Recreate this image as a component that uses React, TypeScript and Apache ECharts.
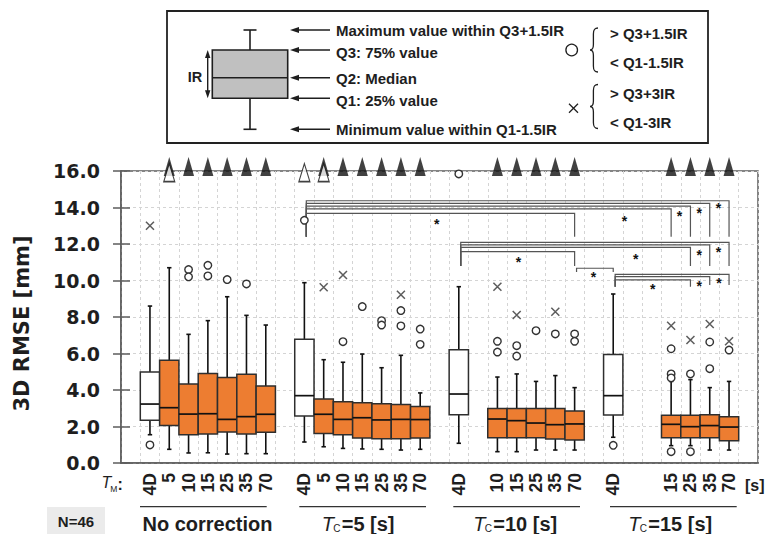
import React, { useEffect, useRef } from 'react';
import * as echarts from 'echarts';

// ---- data ----------------------------------------------------------------
const tmLabels = ['4D', '5', '10', '15', '25', '35', '70'];
const groupTitles = ['No correction', '=5 [s]', '=10 [s]', '=15 [s]'];

type Stat = [number, number, number, number, number] | null; // [min, Q1, median, Q3, max]

const noCorrectionStats: Stat[] = [
  [1.55, 2.34, 3.23, 4.99, 8.6],
  [0.75, 2.05, 3.03, 5.63, 10.7],
  [0.55, 1.55, 2.68, 4.33, 7.05],
  [0.56, 1.59, 2.7, 4.91, 7.8],
  [0.49, 1.7, 2.39, 4.68, 9.11],
  [0.51, 1.59, 2.54, 4.86, 8.09],
  [0.51, 1.68, 2.67, 4.22, 7.56],
];
const tc5Stats: Stat[] = [
  [1.15, 2.58, 3.69, 6.78, 9.88],
  [0.89, 1.62, 2.67, 3.51, 5.66],
  [0.8, 1.55, 2.39, 3.36, 5.52],
  [0.77, 1.37, 2.48, 3.3, 5.97],
  [0.75, 1.33, 2.36, 3.25, 5.22],
  [0.71, 1.33, 2.39, 3.21, 5.9],
  [0.75, 1.37, 2.38, 3.09, 3.84],
];
const tc10Stats: Stat[] = [
  [1.08, 2.65, 3.78, 6.21, 9.66],
  null,
  [0.62, 1.39, 2.41, 2.98, 4.71],
  [0.62, 1.39, 2.32, 2.98, 4.88],
  [0.71, 1.39, 2.19, 2.98, 4.47],
  [0.71, 1.32, 2.1, 2.98, 4.79],
  [0.71, 1.26, 2.14, 2.85, 4.13],
];
const tc15Stats: Stat[] = [
  [1.41, 2.63, 3.69, 5.95, 9.26],
  null,
  null,
  [0.95, 1.39, 2.12, 2.61, 4.47],
  [0.95, 1.39, 1.99, 2.61, 4.57],
  [0.71, 1.39, 2.05, 2.65, 4.13],
  [0.71, 1.22, 1.97, 2.54, 4.47],
];
const groupStats = [noCorrectionStats, tc5Stats, tc10Stats, tc15Stats];

// outliers as [group, T_M index, value]
const circleOutliers: [number, number, number][] = [
  [0, 0, 0.99], [0, 2, 10.6], [0, 2, 10.2], [0, 3, 10.83], [0, 3, 10.25], [0, 4, 10.05], [0, 5, 9.81],
  [1, 0, 13.3], [1, 2, 6.65], [1, 3, 8.57], [1, 4, 7.8], [1, 4, 7.56], [1, 5, 8.35], [1, 5, 7.51],
  [1, 6, 7.34], [1, 6, 6.5],
  [2, 0, 15.84], [2, 2, 6.67], [2, 2, 6.08], [2, 3, 6.43], [2, 3, 5.86], [2, 4, 7.25], [2, 5, 7.07],
  [2, 6, 7.07], [2, 6, 6.67],
  [3, 0, 0.97], [3, 3, 6.26], [3, 3, 4.88], [3, 3, 4.66], [3, 3, 0.62], [3, 4, 4.88], [3, 4, 0.62],
  [3, 5, 6.63], [3, 5, 5.17], [3, 6, 6.19],
];
const crossOutliers: [number, number, number][] = [
  [0, 0, 13.0],
  [1, 1, 9.63], [1, 2, 10.3], [1, 5, 9.22],
  [2, 2, 9.66], [2, 3, 8.11], [2, 5, 8.29],
  [3, 3, 7.52], [3, 4, 6.74], [3, 5, 7.62], [3, 6, 6.67],
];

// markers above the frame: [group, T_M index]
const filledMarks: [number, number][] = [
  [0, 1], [0, 2], [0, 3], [0, 4], [0, 5], [0, 6],
  [1, 1], [1, 2], [1, 3], [1, 4], [1, 5], [1, 6],
  [2, 2], [2, 3], [2, 4], [2, 5], [2, 6],
  [3, 3], [3, 4], [3, 5], [3, 6],
];
const hollowMarks: [number, number][] = [[0, 1], [1, 0], [1, 1]];

// significance brackets: [from group, from T_M, to group, to T_M, top, left foot, right foot]
const brackets: [number, number, number, number, number, number, number][] = [
  [1, 0, 3, 6, 14.37, 12.4, 12.4],
  [1, 0, 3, 5, 14.23, 12.4, 12.4],
  [1, 0, 3, 4, 14.08, 12.4, 12.4],
  [1, 0, 3, 3, 13.93, 12.4, 12.4],
  [1, 0, 2, 6, 13.68, 12.4, 12.4],
  [2, 0, 3, 6, 12.09, 10.79, 10.79],
  [2, 0, 3, 5, 11.95, 10.79, 10.79],
  [2, 0, 3, 4, 11.82, 10.79, 10.79],
  [2, 0, 2, 6, 11.58, 10.79, 10.79],
  [2, 6, 3, 0, 10.67, 10.47, 10.47],
  [3, 0, 3, 6, 10.34, 9.66, 9.75],
  [3, 0, 3, 5, 10.21, 9.66, 9.75],
  [3, 0, 3, 4, 10.03, 9.66, 9.66],
];
// asterisks: [position along the slot axis, value]
const stars: [number, number][] = [
  [30.95, 14.14], [29.96, 13.86], [28.93, 13.68], [26.08, 13.41], [16.36, 13.26],
  [30.95, 11.71], [29.96, 11.55], [26.67, 11.36], [20.59, 11.18],
  [24.47, 10.34],
  [30.98, 10.03], [29.96, 9.85], [27.55, 9.72],
];

const yTicks = [0, 2, 4, 6, 8, 10, 12, 14, 16];

// ---- layout helpers --------------------------------------------------------
const SLOT_COUNT = 33;
const slotOf = (g: number, t: number) => 1 + g * 8 + t;

const slotLabels: string[] = Array(SLOT_COUNT).fill('');
groupStats.forEach((stats, g) =>
  stats.forEach((s, t) => {
    if (s) slotLabels[slotOf(g, t)] = tmLabels[t];
  })
);

const boxData: number[][] = [];
groupStats.forEach((stats, g) =>
  stats.forEach((s, t) => {
    if (s) boxData.push([slotOf(g, t), ...s, t === 0 ? 0 : 1]);
  })
);

const ARIAL = '"Liberation Sans", Arial, Helvetica, sans-serif';
const DEJAVU = '"DejaVu Sans", Verdana, sans-serif';
const ORANGE = '#ED7D31';
const INK = '#1e1e1e';
const FRAME = '#5c5c5c';

// curly brace used in the outlier key
const BRACE_D =
  'M8,0 C4.5,0 3.4,1.5 3.4,6 L3.4,16.5 C3.4,20 2.4,22 0,22 C2.4,22 3.4,24 3.4,27.5 L3.4,38 C3.4,42.5 4.5,44 8,44';
echarts.graphic.registerShape('brace', echarts.graphic.extendPath(BRACE_D, {}) as any);

function text(str: string, x: number, y: number, o: Record<string, any> = {}) {
  const align = o.align || 'left';
  return {
    type: 'text',
    x,
    y,
    rotation: o.rotation || 0,
    silent: true,
    style: {
      text: str,
      fill: o.fill || INK,
      fontFamily: o.fontFamily || ARIAL,
      fontWeight: o.fontWeight || 'bold',
      fontStyle: o.fontStyle || 'normal',
      fontSize: o.fontSize || 15,
      align,
      textAlign: align,
      verticalAlign: 'middle',
      textVerticalAlign: 'middle',
    },
  };
}

function legendArrow(y: number) {
  return [
    { type: 'line', silent: true, shape: { x1: 296, y1: y, x2: 330, y2: y }, style: { stroke: INK, lineWidth: 1.4 } },
    { type: 'polygon', silent: true, shape: { points: [[290, y], [299, y - 3], [299, y + 3]] }, style: { fill: INK } },
  ];
}

function buildGraphics() {
  const els: any[] = [];
  // legend frame
  els.push({ type: 'rect', silent: true, shape: { x: 167, y: 11, width: 541, height: 132 }, style: { fill: '#fff', stroke: '#222', lineWidth: 1.8 } });
  // sample box
  els.push({ type: 'line', silent: true, shape: { x1: 250, y1: 30, x2: 250, y2: 50 }, style: { stroke: INK, lineWidth: 1.6 } });
  els.push({ type: 'line', silent: true, shape: { x1: 250, y1: 98.3, x2: 250, y2: 129.3 }, style: { stroke: INK, lineWidth: 1.6 } });
  els.push({ type: 'line', silent: true, shape: { x1: 243.5, y1: 30, x2: 256.5, y2: 30 }, style: { stroke: INK, lineWidth: 1.6 } });
  els.push({ type: 'line', silent: true, shape: { x1: 243.5, y1: 129.3, x2: 256.5, y2: 129.3 }, style: { stroke: INK, lineWidth: 1.6 } });
  els.push({ type: 'rect', silent: true, shape: { x: 212.3, y: 50, width: 75.4, height: 48.3 }, style: { fill: '#c0c0c0', stroke: INK, lineWidth: 1.6 } });
  els.push({ type: 'line', silent: true, shape: { x1: 212.3, y1: 77.7, x2: 287.7, y2: 77.7 }, style: { stroke: INK, lineWidth: 1.6 } });
  // IR double arrow
  els.push({ type: 'line', silent: true, shape: { x1: 207.7, y1: 55, x2: 207.7, y2: 93 }, style: { stroke: INK, lineWidth: 1.4 } });
  els.push({ type: 'polygon', silent: true, shape: { points: [[207.7, 50], [205, 58], [210.4, 58]] }, style: { fill: INK } });
  els.push({ type: 'polygon', silent: true, shape: { points: [[207.7, 98.3], [205, 90.3], [210.4, 90.3]] }, style: { fill: INK } });
  els.push(text('IR', 195, 77, { align: 'center', fontSize: 14.5 }));
  // pointers and captions
  const rows: [number, number, string][] = [
    [30, 30, 'Maximum value within Q3+1.5IR'],
    [50, 52.3, 'Q3: 75% value'],
    [77.7, 78.3, 'Q2: Median'],
    [98.3, 100, 'Q1: 25% value'],
    [129.3, 129.3, 'Minimum value within Q1-1.5IR'],
  ];
  rows.forEach(([ay, ty, s]) => {
    els.push(...legendArrow(ay));
    els.push(text(s, 336, ty));
  });
  // outlier keys
  els.push({ type: 'circle', silent: true, shape: { cx: 571.7, cy: 50, r: 5.8 }, style: { fill: 'none', stroke: INK, lineWidth: 1.3 } });
  els.push({ type: 'line', silent: true, shape: { x1: 569, y1: 103.8, x2: 578, y2: 112.8 }, style: { stroke: INK, lineWidth: 1.3 } });
  els.push({ type: 'line', silent: true, shape: { x1: 578, y1: 103.8, x2: 569, y2: 112.8 }, style: { stroke: INK, lineWidth: 1.3 } });
  els.push({ type: 'brace', silent: true, x: 590, y: 28, style: { fill: 'none', stroke: INK, lineWidth: 1.3 } });
  els.push({ type: 'brace', silent: true, x: 590, y: 84.5, style: { fill: 'none', stroke: INK, lineWidth: 1.3 } });
  els.push(text('> Q3+1.5IR', 610, 33.3));
  els.push(text('< Q1-1.5IR', 610, 62.7));
  els.push(text('> Q3+3IR', 610, 93.3));
  els.push(text('< Q1-3IR', 610, 122.7));

  // y-axis title
  els.push(text('3D RMSE [mm]', 21.5, 323.5, { align: 'center', fontFamily: DEJAVU, fontSize: 21, rotation: Math.PI / 2 }));

  // T_M row caption and unit
  els.push(text('T', 101.5, 482.5, { fontStyle: 'italic', fontWeight: 'normal', fontSize: 16 }));
  els.push(text('M', 110.2, 489, { fontWeight: 'normal', fontSize: 8.5 }));
  els.push(text(':', 117.5, 484, { fontSize: 16 }));
  els.push(text('[s]', 745, 485.5, { fontSize: 16 }));

  // group captions with rules
  const rules: [number, number][] = [[140, 266.7], [299.3, 426], [453.3, 580], [610, 736.7]];
  rules.forEach(([a, b]) =>
    els.push({ type: 'line', silent: true, shape: { x1: a, y1: 506.7, x2: b, y2: 506.7 }, style: { stroke: '#333', lineWidth: 1.3 } })
  );
  els.push(text(groupTitles[0], 207.5, 524, { align: 'center', fontSize: 20 }));
  const tcStarts = [321.7, 473.3, 628.3];
  tcStarts.forEach((x0, i) => {
    els.push(text('T', x0, 524, { fontStyle: 'italic', fontWeight: 'normal', fontSize: 20 }));
    els.push(text('C', x0 + 11.5, 528.5, { fontWeight: 'normal', fontSize: 10 }));
    els.push(text(groupTitles[i + 1], x0 + 20, 524, { fontSize: 20 }));
  });

  // sample size tag
  els.push({ type: 'rect', silent: true, shape: { x: 47, y: 507, width: 58, height: 27 }, style: { fill: '#ebebeb' } });
  els.push(text('N=46', 76, 521, { align: 'center', fontSize: 15 }));
  return els;
}

function renderBox(params: any, api: any) {
  const slot = api.value(0);
  const mn = api.value(1);
  const q1 = api.value(2);
  const md = api.value(3);
  const q3 = api.value(4);
  const mx = api.value(5);
  const filled = api.value(6) === 1;
  const w = api.size([1, 0])[0];
  const pMin = api.coord([slot, mn]);
  const pQ1 = api.coord([slot, q1]);
  const pMd = api.coord([slot, md]);
  const pQ3 = api.coord([slot, q3]);
  const pMax = api.coord([slot, mx]);
  const x = pMd[0];
  const half = w / 2;
  const wStyle = { stroke: '#111', lineWidth: 1.6 };
  const cap = 2.2;
  return {
    type: 'group',
    children: [
      { type: 'line', shape: { x1: x, y1: pMax[1], x2: x, y2: pQ3[1] }, style: wStyle },
      { type: 'line', shape: { x1: x, y1: pQ1[1], x2: x, y2: pMin[1] }, style: wStyle },
      { type: 'line', shape: { x1: x - cap, y1: pMax[1], x2: x + cap, y2: pMax[1] }, style: wStyle },
      { type: 'line', shape: { x1: x - cap, y1: pMin[1], x2: x + cap, y2: pMin[1] }, style: wStyle },
      {
        type: 'rect',
        shape: { x: x - half, y: pQ3[1], width: w, height: pQ1[1] - pQ3[1] },
        style: { fill: filled ? ORANGE : '#ffffff', stroke: '#2e2e2e', lineWidth: 1.5 },
      },
      { type: 'line', shape: { x1: x - half, y1: pMd[1], x2: x + half, y2: pMd[1] }, style: { stroke: '#111', lineWidth: 1.7 } },
    ],
  };
}

function renderBracket(params: any, api: any) {
  const x1 = api.value(0);
  const x2 = api.value(1);
  const top = api.value(2);
  const lf = api.value(3);
  const rf = api.value(4);
  const a = api.coord([x1, lf]);
  const b = api.coord([x1, top]);
  const c = api.coord([x2, top]);
  const d = api.coord([x2, rf]);
  return {
    type: 'polyline',
    shape: { points: [a, b, c, d] },
    style: { fill: 'none', stroke: '#555', lineWidth: 1.2 },
  };
}

function renderStar(params: any, api: any) {
  const p = api.coord([api.value(0), api.value(1)]);
  return {
    type: 'text',
    x: p[0],
    y: p[1] + 3,
    style: {
      text: '*',
      fill: '#111',
      fontFamily: ARIAL,
      fontWeight: 'bold',
      fontSize: 14,
      align: 'center',
      textAlign: 'center',
      verticalAlign: 'middle',
      textVerticalAlign: 'middle',
    },
  };
}

export default function App() {
  const ref = useRef<HTMLDivElement>(null);

  useEffect(() => {
    document.body.style.margin = '0';
    if (!ref.current) return;
    const chart = echarts.init(ref.current, null, { renderer: 'svg' });

    const bracketData = brackets.map(([fg, ft, tg, tt, top, lf, rf]) => [
      slotOf(fg, ft) + 0.6,
      slotOf(tg, tt) + 0.5,
      top,
      lf,
      rf,
    ]);

    const option: any = {
      animation: false,
      backgroundColor: '#ffffff',
      grid: {
        left: 121,
        right: 11,
        top: 171,
        bottom: 71,
        show: true,
        borderColor: FRAME,
        borderWidth: 1.5,
        backgroundColor: 'transparent',
      },
      xAxis: [
        {
          type: 'category',
          data: slotLabels,
          boundaryGap: true,
          axisLine: { show: true, lineStyle: { color: FRAME, width: 1.5 } },
          axisTick: { show: false },
          splitLine: { show: true, interval: 0, lineStyle: { color: '#d4d4d4', type: [3, 3], width: 1 } },
          axisLabel: {
            interval: 0,
            rotate: 90,
            margin: 10,
            color: INK,
            fontFamily: ARIAL,
            fontWeight: 'bold',
            fontSize: 17.5,
          },
        },
        { type: 'value', min: 0, max: SLOT_COUNT, show: false, gridIndex: 0 },
      ],
      yAxis: [
        {
          type: 'value',
          min: yTicks[0],
          max: yTicks[yTicks.length - 1],
          interval: 2,
          position: 'left',
          axisLine: { show: true, lineStyle: { color: FRAME, width: 1.5 } },
          axisTick: { show: true, length: 8, lineStyle: { color: FRAME, width: 1.5 } },
          splitLine: { show: true, lineStyle: { color: '#d4d4d4', type: [3, 3], width: 1 } },
          axisLabel: {
            margin: 21,
            color: INK,
            fontFamily: DEJAVU,
            fontWeight: 'bold',
            fontSize: 19,
            formatter: (v: number) => v.toFixed(1),
          },
        },
        {
          type: 'value',
          min: yTicks[0],
          max: yTicks[yTicks.length - 1],
          interval: 2,
          position: 'left',
          offset: 0,
          axisLine: { show: false },
          axisTick: { show: true, inside: true, length: 9, lineStyle: { color: FRAME, width: 1.5 } },
          splitLine: { show: false },
          axisLabel: { show: false },
        },
      ],
      series: [
        {
          type: 'custom',
          name: 'boxes',
          xAxisIndex: 0,
          yAxisIndex: 0,
          renderItem: renderBox,
          encode: { x: 0, y: [1, 2, 3, 4, 5] },
          data: boxData,
          z: 3,
        },
        {
          type: 'scatter',
          name: 'circles',
          xAxisIndex: 0,
          yAxisIndex: 0,
          symbol: 'circle',
          symbolSize: 7.5,
          clip: false,
          itemStyle: { color: '#ffffff', borderColor: '#333', borderWidth: 1.4, opacity: 1 },
          data: circleOutliers.map(([g, t, v]) => [slotOf(g, t), v]),
          z: 4,
        },
        {
          type: 'scatter',
          name: 'crosses',
          xAxisIndex: 0,
          yAxisIndex: 0,
          symbol: 'path://M0,0L10,10M10,0L0,10',
          symbolSize: 8,
          itemStyle: { color: 'none', borderColor: '#333', borderWidth: 1.5 },
          data: crossOutliers.map(([g, t, v]) => [slotOf(g, t), v]),
          z: 4,
        },
        {
          type: 'scatter',
          name: 'filled marks',
          xAxisIndex: 0,
          yAxisIndex: 0,
          symbol: 'triangle',
          symbolSize: [11, 19],
          clip: false,
          itemStyle: { color: '#111' },
          data: filledMarks.map(([g, t]) => [slotOf(g, t), 16.24]),
          z: 5,
        },
        {
          type: 'scatter',
          name: 'hollow marks',
          xAxisIndex: 0,
          yAxisIndex: 0,
          symbol: 'triangle',
          symbolSize: [11, 18],
          clip: false,
          itemStyle: { color: '#ffffff', borderColor: '#111', borderWidth: 1.3 },
          data: hollowMarks.map(([g, t]) => [slotOf(g, t), 15.91]),
          z: 6,
        },
        {
          type: 'custom',
          name: 'brackets',
          xAxisIndex: 1,
          yAxisIndex: 0,
          renderItem: renderBracket,
          encode: { x: [0, 1], y: [2, 3, 4] },
          data: bracketData,
          z: 4,
        },
        {
          type: 'custom',
          name: 'stars',
          xAxisIndex: 1,
          yAxisIndex: 0,
          renderItem: renderStar,
          encode: { x: 0, y: 1 },
          data: stars,
          z: 4,
        },
      ],
      graphic: buildGraphics(),
    };

    chart.setOption(option);
    return () => chart.dispose();
  }, []);

  return <div ref={ref} style={{ width: 769, height: 534 }} />;
}
